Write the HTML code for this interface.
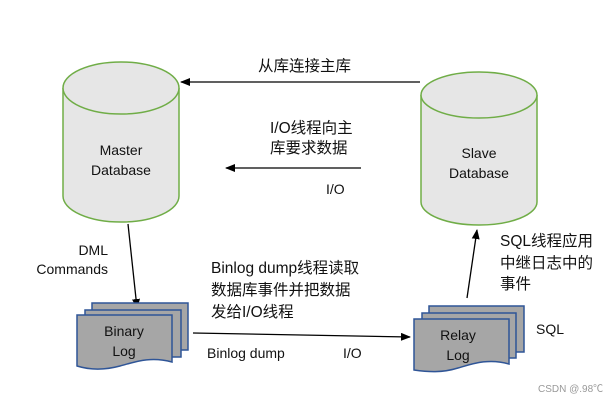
<!DOCTYPE html>
<html><head><meta charset="utf-8"><style>
html,body{margin:0;padding:0;background:#fff;}
svg{display:block;}
text{font-family:"Liberation Sans","Noto Sans CJK SC",sans-serif;font-size:14px;fill:#111;}
.c{font-size:15.5px;}
</style></head><body>
<svg width="615" height="403" viewBox="0 0 615 403" xmlns="http://www.w3.org/2000/svg">
<defs><marker id="a" markerWidth="10" markerHeight="8" refX="9" refY="4" orient="auto" markerUnits="userSpaceOnUse"><path d="M0,0 L10,4 L0,8 Z" fill="#000"/></marker></defs>
<path d="M63,88 L63,196 A58,26 0 0 0 179,196 L179,88" fill="#e6e6e6" stroke="#70ad47" stroke-width="1.5"/>
<ellipse cx="121" cy="88" rx="58" ry="26" fill="#e6e6e6" stroke="#70ad47" stroke-width="1.5"/>
<text x="121" y="155" text-anchor="middle">Master</text>
<text x="121" y="175" text-anchor="middle">Database</text>
<path d="M421,95 L421,202 A58,23 0 0 0 537,202 L537,95" fill="#e6e6e6" stroke="#70ad47" stroke-width="1.5"/>
<ellipse cx="479" cy="95" rx="58" ry="23" fill="#e6e6e6" stroke="#70ad47" stroke-width="1.5"/>
<text x="479" y="158" text-anchor="middle">Slave</text>
<text x="479" y="178" text-anchor="middle">Database</text>
<line x1="420" y1="82" x2="181" y2="82" stroke="#000" stroke-width="1.3" marker-end="url(#a)"/>
<line x1="361" y1="168" x2="226" y2="168" stroke="#000" stroke-width="1.3" marker-end="url(#a)"/>
<line x1="193" y1="333" x2="410" y2="337" stroke="#000" stroke-width="1.3" marker-end="url(#a)"/>
<line x1="128" y1="224" x2="137" y2="308" stroke="#000" stroke-width="1.3" marker-end="url(#a)"/>
<line x1="467" y1="298" x2="477" y2="230" stroke="#000" stroke-width="1.3" marker-end="url(#a)"/>
<g fill="#a6a6a6" stroke="#2f5597" stroke-width="1.5">
<rect x="92" y="303" width="96" height="47"/>
<rect x="85" y="310" width="96" height="47"/>
<path d="M77,315 L172,315 L172,362 C150,356 135,362 120,366 C105,370 90,370 77,366 Z"/>
</g>
<text x="124" y="336" text-anchor="middle">Binary</text>
<text x="124" y="356" text-anchor="middle">Log</text>
<g fill="#a6a6a6" stroke="#2f5597" stroke-width="1.5">
<rect x="429" y="306" width="95" height="46"/>
<rect x="422" y="313" width="94" height="45"/>
<path d="M414,319 L509,319 L509,364 C488,358 472,364 458,368 C442,373 428,372 414,370 Z"/>
</g>
<text x="458" y="340" text-anchor="middle">Relay</text>
<text x="458" y="360" text-anchor="middle">Log</text>
<text class="c" x="258" y="71">从库连接主库</text>
<text class="c" x="270" y="133">I/O线程向主</text>
<text class="c" x="270" y="153">库要求数据</text>
<text x="326" y="194">I/O</text>
<text x="108" y="255" text-anchor="end">DML</text>
<text x="108" y="274" text-anchor="end">Commands</text>
<text class="c" x="211" y="273">Binlog dump线程读取</text>
<text class="c" x="211" y="295">数据库事件并把数据</text>
<text class="c" x="211" y="317">发给I/O线程</text>
<text x="207" y="358">Binlog dump</text>
<text x="343" y="358">I/O</text>
<text class="c" x="500" y="246">SQL线程应用</text>
<text class="c" x="500" y="268">中继日志中的</text>
<text class="c" x="500" y="289">事件</text>
<text x="536" y="334">SQL</text>
<text x="538" y="392" style="font-size:10px;fill:#999">CSDN @.98℃</text>
</svg>
</body></html>
